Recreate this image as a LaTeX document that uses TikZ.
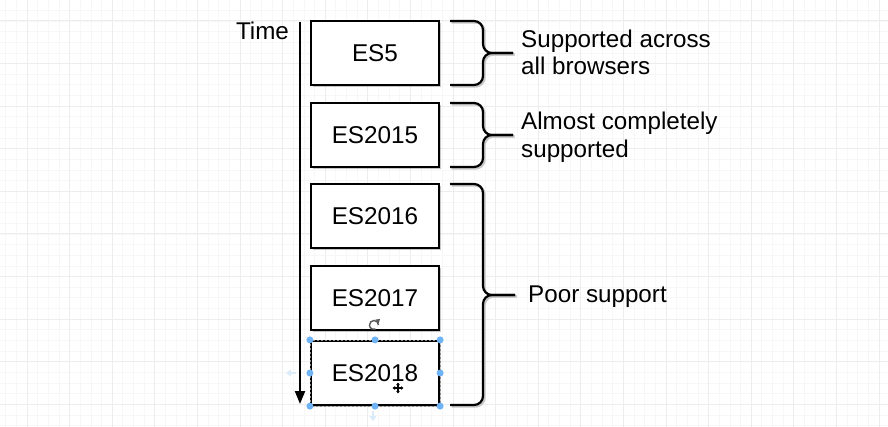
\documentclass[tikz,border=0pt]{standalone}
\usepackage{fontspec}
\setmainfont{Liberation Sans}
\usetikzlibrary{arrows.meta,shadows}
\definecolor{gridmajor}{HTML}{EDEDED}
\definecolor{gridminor}{HTML}{F7F7F7}
\definecolor{handleblue}{HTML}{6EB3F5}
\definecolor{faintblue}{HTML}{DCEBFA}
\begin{document}
\begin{tikzpicture}[x=1pt,y=-1pt,
  box/.style={draw=black,line width=2.2pt,fill=white,minimum width=128pt,minimum height=64pt,inner sep=0pt,
    font=\fontsize{24.3}{28}\selectfont,
    drop shadow={shadow xshift=2pt,shadow yshift=-2pt,fill=black,opacity=0.22}},
  lbl/.style={inner sep=0pt,font=\fontsize{24.2}{27.6}\selectfont,align=left},
  bracestyle/.style={line width=2.2pt,rounded corners=9pt},
  braceshadow/.style={line width=2.4pt,draw=black!22,rounded corners=9pt},
  handle/.style={circle,fill=handleblue,inner sep=0pt,minimum size=7pt},
  gmin/.style={draw=gridminor,line width=0.8pt},
  gmaj/.style={draw=gridmajor,line width=1pt}]
% background and grid
\fill[white] (0,0) rectangle (888,427);
\begin{scope}
\clip (0,0) rectangle (888,427);
\foreach \i in {0,...,84} \draw[gmin] ({5.7+10.65*\i},0) -- ({5.7+10.65*\i},427);
\foreach \j in {0,...,40} \draw[gmin] (0,{-0.3+10.65*\j}) -- (888,{-0.3+10.65*\j});
\foreach \i in {-1,...,20} \draw[gmaj] ({27+42.6*\i},0) -- ({27+42.6*\i},427);
\foreach \j in {0,...,9} \draw[gmaj] (0,{21+42.6*\j}) -- (888,{21+42.6*\j});
\end{scope}
\useasboundingbox (0,0) rectangle (888,427);

% time axis
\node[lbl,anchor=base] (time) at (262.5,40) {Time};
\coordinate (t0) at (300,22);
\coordinate (t1) at (300,404);
\draw[line width=2.2pt,-{Triangle[length=13pt,width=10pt]}] (t0) -- (t1);

% boxes
\node[box] (e5) at (375,53) {ES5};
\node[box] (e15) at (375,135) {ES2015};
\node[box] (e16) at (375,216) {ES2016};
\node[box] (e17) at (375,298) {ES2017};
\node[box] (e18) at (375,373) {ES2018};

% brace coordinates
\coordinate (b1a) at (450,21);  \coordinate (b1b) at (450,85);
\coordinate (b1m) at (483,53);  \coordinate (b1t) at (513,53);
\coordinate (b2a) at (450,103); \coordinate (b2b) at (450,167);
\coordinate (b2m) at (483,135); \coordinate (b2t) at (513,135);
\coordinate (b3a) at (450,184); \coordinate (b3b) at (450,405);
\coordinate (b3m) at (483,295); \coordinate (b3t) at (515,295);

% brace shadows
\begin{scope}[transform canvas={xshift=1.5pt,yshift=-1.5pt}]
\draw[braceshadow] (b1a) -| (b1m) -- (b1t);
\draw[braceshadow] (b1b) -| (b1m) -- (b1t);
\draw[braceshadow] (b2a) -| (b2m) -- (b2t);
\draw[braceshadow] (b2b) -| (b2m) -- (b2t);
\draw[braceshadow] (b3a) -| (b3m) -- (b3t);
\draw[braceshadow] (b3b) -| (b3m) -- (b3t);
\end{scope}
% braces
\draw[bracestyle] (b1a) -| (b1m) -- (b1t);
\draw[bracestyle] (b1b) -| (b1m) -- (b1t);
\draw[bracestyle] (b2a) -| (b2m) -- (b2t);
\draw[bracestyle] (b2b) -| (b2m) -- (b2t);
\draw[bracestyle] (b3a) -| (b3m) -- (b3t);
\draw[bracestyle] (b3b) -| (b3m) -- (b3t);

% labels
\node[lbl,anchor=north west] (l1) at (521,29.5) {Supported across\\all browsers};
\node[lbl,anchor=north west] (l2) at (521,112) {Almost completely\\supported};
\node[lbl,anchor=base west] (l3) at (528,303) {Poor support};

% selection of ES2018
\draw[black!45,line width=0.8pt,dash pattern=on 2pt off 2pt] (e18.north west) rectangle (e18.south east);
\foreach \a/\n in {north west/1,north/2,north east/3,west/4,east/5,south west/6,south/7,south east/8}
  \node[handle] (h\n) at (e18.\a) {};
% rotation handle
\coordinate (rot) at (374,325);
\draw[black!65,line width=1.4pt] ([xshift=4.5pt]rot) arc[start angle=0,end angle=290,radius=4.5pt];
\fill[black!65] ([xshift=1.5pt,yshift=5.5pt]rot) -- ++(4.5,-0.5) -- ++(-1.5,4.5) -- cycle;
% faint move arrows
\coordinate (fl) at (286,373);
\coordinate (fb) at (373,421);
\draw[faintblue,line width=2pt,-{Triangle[length=5pt,width=7pt]}] ([xshift=10pt]fl) -- (fl);
\draw[faintblue,line width=2pt,-{Triangle[length=5pt,width=7pt]}] ([yshift=10pt]fb) -- (fb);
% cursor
\coordinate (cur) at (398,388);
\draw[black,line width=1.2pt,{Triangle[length=2.5pt,width=3.5pt]}-{Triangle[length=2.5pt,width=3.5pt]}] ([xshift=-5.5pt]cur) -- ([xshift=5.5pt]cur);
\draw[black,line width=1.2pt,{Triangle[length=2.5pt,width=3.5pt]}-{Triangle[length=2.5pt,width=3.5pt]}] ([yshift=-5.5pt]cur) -- ([yshift=5.5pt]cur);
\end{tikzpicture}
\end{document}
